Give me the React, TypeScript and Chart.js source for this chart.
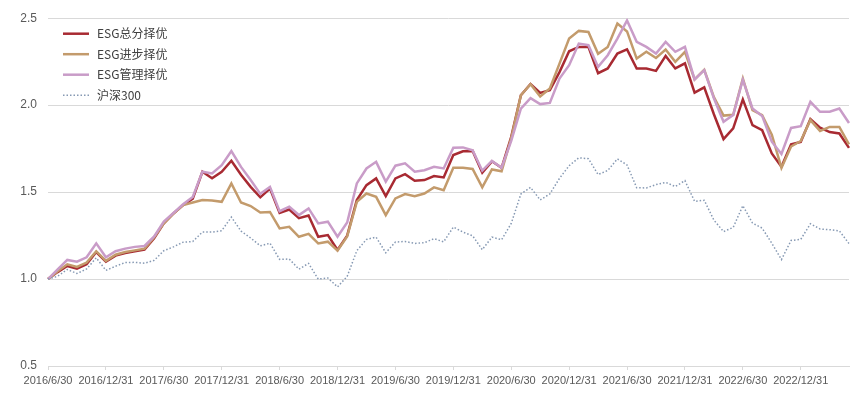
import React, { useEffect, useRef } from 'react';
import { Chart, registerables } from 'chart.js';

Chart.register(...registerables);

const dates: string[] = [
  '2016/6/30', '2016/7/31', '2016/8/31', '2016/9/30', '2016/10/31', '2016/11/30', '2016/12/31',
  '2017/1/31', '2017/2/28', '2017/3/31', '2017/4/30', '2017/5/31', '2017/6/30', '2017/7/31', '2017/8/31', '2017/9/30', '2017/10/31', '2017/11/30', '2017/12/31',
  '2018/1/31', '2018/2/28', '2018/3/31', '2018/4/30', '2018/5/31', '2018/6/30', '2018/7/31', '2018/8/31', '2018/9/30', '2018/10/31', '2018/11/30', '2018/12/31',
  '2019/1/31', '2019/2/28', '2019/3/31', '2019/4/30', '2019/5/31', '2019/6/30', '2019/7/31', '2019/8/31', '2019/9/30', '2019/10/31', '2019/11/30', '2019/12/31',
  '2020/1/31', '2020/2/29', '2020/3/31', '2020/4/30', '2020/5/31', '2020/6/30', '2020/7/31', '2020/8/31', '2020/9/30', '2020/10/31', '2020/11/30', '2020/12/31',
  '2021/1/31', '2021/2/28', '2021/3/31', '2021/4/30', '2021/5/31', '2021/6/30', '2021/7/31', '2021/8/31', '2021/9/30', '2021/10/31', '2021/11/30', '2021/12/31',
  '2022/1/31', '2022/2/28', '2022/3/31', '2022/4/30', '2022/5/31', '2022/6/30', '2022/7/31', '2022/8/31', '2022/9/30', '2022/10/31', '2022/11/30', '2022/12/31',
  '2023/1/31', '2023/2/28', '2023/3/31', '2023/4/30', '2023/5/31',
];

const tickLabels: string[] = [
  '2016/6/30', '2016/12/31', '2017/6/30', '2017/12/31', '2018/6/30', '2018/12/31', '2019/6/30',
  '2019/12/31', '2020/6/30', '2020/12/31', '2021/6/30', '2021/12/31', '2022/6/30', '2022/12/31',
];

const esgTotal: number[] = [
  1.000, 1.040, 1.075, 1.060, 1.085, 1.155, 1.100, 1.135, 1.150, 1.160,
  1.170, 1.235, 1.320, 1.377, 1.425, 1.462, 1.617, 1.580, 1.617, 1.680,
  1.600, 1.530, 1.470, 1.520, 1.380, 1.400, 1.350, 1.365, 1.243, 1.253,
  1.167, 1.250, 1.454, 1.540, 1.579, 1.477, 1.579, 1.603, 1.565, 1.569,
  1.592, 1.584, 1.713, 1.735, 1.737, 1.612, 1.677, 1.640, 1.818, 2.057,
  2.122, 2.070, 2.086, 2.190, 2.310, 2.335, 2.335, 2.184, 2.211, 2.297,
  2.321, 2.211, 2.211, 2.197, 2.283, 2.211, 2.240, 2.072, 2.102, 1.948,
  1.805, 1.866, 2.033, 1.885, 1.856, 1.722, 1.646, 1.775, 1.789, 1.920,
  1.871, 1.845, 1.837, 1.754,
];

const esgProgress: number[] = [
  1.000, 1.045, 1.085, 1.070, 1.095, 1.160, 1.105, 1.140, 1.155, 1.165,
  1.175, 1.240, 1.320, 1.376, 1.425, 1.440, 1.454, 1.452, 1.444, 1.550,
  1.440, 1.420, 1.383, 1.386, 1.291, 1.300, 1.243, 1.260, 1.205, 1.215,
  1.163, 1.245, 1.444, 1.492, 1.473, 1.368, 1.464, 1.489, 1.477, 1.492,
  1.527, 1.511, 1.640, 1.640, 1.633, 1.527, 1.630, 1.620, 1.810, 2.057,
  2.120, 2.050, 2.096, 2.239, 2.383, 2.427, 2.421, 2.295, 2.335, 2.469,
  2.424, 2.268, 2.307, 2.271, 2.320, 2.249, 2.307, 2.148, 2.203, 2.046,
  1.940, 1.945, 2.153, 1.971, 1.943, 1.830, 1.639, 1.762, 1.794, 1.914,
  1.852, 1.875, 1.875, 1.775,
];

const esgGovern: number[] = [
  1.000, 1.055, 1.110, 1.100, 1.125, 1.205, 1.125, 1.160, 1.175, 1.185,
  1.190, 1.245, 1.330, 1.380, 1.430, 1.472, 1.617, 1.607, 1.655, 1.736,
  1.645, 1.570, 1.490, 1.530, 1.390, 1.416, 1.368, 1.406, 1.320, 1.330,
  1.243, 1.325, 1.550, 1.636, 1.674, 1.560, 1.652, 1.665, 1.617, 1.626,
  1.646, 1.636, 1.755, 1.757, 1.740, 1.623, 1.679, 1.640, 1.795, 1.980,
  2.040, 2.006, 2.013, 2.153, 2.230, 2.354, 2.345, 2.220, 2.287, 2.383,
  2.487, 2.364, 2.335, 2.297, 2.364, 2.307, 2.335, 2.148, 2.201, 2.040,
  1.904, 1.943, 2.146, 1.981, 1.938, 1.790, 1.719, 1.869, 1.879, 2.019,
  1.962, 1.962, 1.981, 1.897,
];

const csi300: number[] = [
  1.000, 1.016, 1.055, 1.032, 1.058, 1.122, 1.050, 1.074, 1.095, 1.096,
  1.091, 1.107, 1.163, 1.185, 1.212, 1.216, 1.270, 1.270, 1.278, 1.356,
  1.276, 1.236, 1.191, 1.206, 1.113, 1.115, 1.057, 1.090, 1.000, 1.006,
  0.955, 1.015, 1.163, 1.228, 1.241, 1.151, 1.213, 1.216, 1.205, 1.209,
  1.232, 1.214, 1.299, 1.270, 1.249, 1.169, 1.241, 1.226, 1.320, 1.489,
  1.527, 1.455, 1.489, 1.579, 1.652, 1.697, 1.692, 1.601, 1.624, 1.691,
  1.656, 1.525, 1.524, 1.543, 1.556, 1.532, 1.566, 1.447, 1.453, 1.339,
  1.273, 1.297, 1.422, 1.322, 1.293, 1.206, 1.112, 1.222, 1.228, 1.318,
  1.288, 1.284, 1.277, 1.204,
];

const seriesNames: string[] = ['ESG总分择优', 'ESG进步择优', 'ESG管理择优', '沪深300'];

const yTicks: number[] = [0.5, 1.0, 1.5, 2.0, 2.5];

const legendPlugin = {
  id: 'insideLegend',
  afterDraw(chart: any) {
    const { ctx, chartArea } = chart;
    const datasets = chart.data.datasets;
    ctx.save();
    const lx0 = chartArea.left + 15;
    const lx1 = chartArea.left + 41;
    const tx = chartArea.left + 49;
    datasets.forEach((ds: any, i: number) => {
      const y = chartArea.top + 15.5 + i * 20.5;
      ctx.beginPath();
      ctx.setLineDash(ds.borderDash || []);
      ctx.strokeStyle = ds.borderColor;
      ctx.lineWidth = ds.borderWidth;
      ctx.moveTo(lx0, y);
      ctx.lineTo(lx1, y);
      ctx.stroke();
      ctx.setLineDash([]);
      ctx.fillStyle = '#404040';
      ctx.font = '12px "Noto Sans CJK SC", "Liberation Sans", sans-serif';
      ctx.textBaseline = 'middle';
      ctx.textAlign = 'left';
      ctx.fillText(ds.label, tx, y);
    });
    ctx.restore();
  },
};

export default function App() {
  const ref = useRef<HTMLCanvasElement>(null);

  useEffect(() => {
    if (!ref.current) return;
    const chart = new Chart(ref.current, {
      type: 'line',
      data: {
        labels: dates,
        datasets: [
          { label: seriesNames[0], data: esgTotal, borderColor: '#A82A32', borderWidth: 2.5, pointRadius: 0, tension: 0, fill: false, order: 4 },
          { label: seriesNames[1], data: esgProgress, borderColor: '#C39B6C', borderWidth: 2.5, pointRadius: 0, tension: 0, fill: false, order: 3 },
          { label: seriesNames[2], data: esgGovern, borderColor: '#C99CC8', borderWidth: 2.5, pointRadius: 0, tension: 0, fill: false, order: 2 },
          { label: seriesNames[3], data: csi300, borderColor: '#8699B3', borderWidth: 1.5, borderDash: [1.5, 2], pointRadius: 0, tension: 0, fill: false, order: 1 },
        ],
      },
      options: {
        responsive: false,
        animation: false,
        layout: { padding: { top: 18, right: 16, bottom: 0, left: 0 } },
        plugins: {
          legend: { display: false },
          tooltip: { enabled: false },
        },
        scales: {
          x: {
            type: 'category',
            offset: false,
            grid: { drawOnChartArea: false, drawTicks: true, tickLength: 4, color: '#D9D9D9' },
            border: { display: true, color: '#D9D9D9', width: 1 },
            ticks: {
              autoSkip: false,
              maxRotation: 0,
              minRotation: 0,
              padding: 4,
              color: '#595959',
              font: { family: '"Liberation Sans", sans-serif', size: 11 },
            },
            afterBuildTicks: (axis: any) => {
              axis.ticks = axis.ticks.filter((t: any) => tickLabels.includes(dates[t.value]));
            },
            afterFit: (scale: any) => {
              scale.height = 35;
            },
          },
          y: {
            min: 0.5,
            max: 2.5,
            afterBuildTicks: (axis: any) => {
              axis.ticks = yTicks.map((v) => ({ value: v }));
            },
            grid: { color: '#D9D9D9', drawTicks: false, lineWidth: 1 },
            border: { display: false },
            ticks: {
              padding: 11,
              color: '#595959',
              font: { family: '"Liberation Sans", sans-serif', size: 12 },
              callback: (v: any) => Number(v).toFixed(1),
            },
            afterFit: (scale: any) => {
              scale.width = 48;
            },
          },
        },
      },
      plugins: [legendPlugin],
    });
    return () => chart.destroy();
  }, []);

  return (
    <div style={{ position: 'fixed', left: 0, top: 0, width: 865, height: 401, background: '#fff' }}>
      <canvas ref={ref} width={865} height={401} style={{ display: 'block' }} />
    </div>
  );
}
